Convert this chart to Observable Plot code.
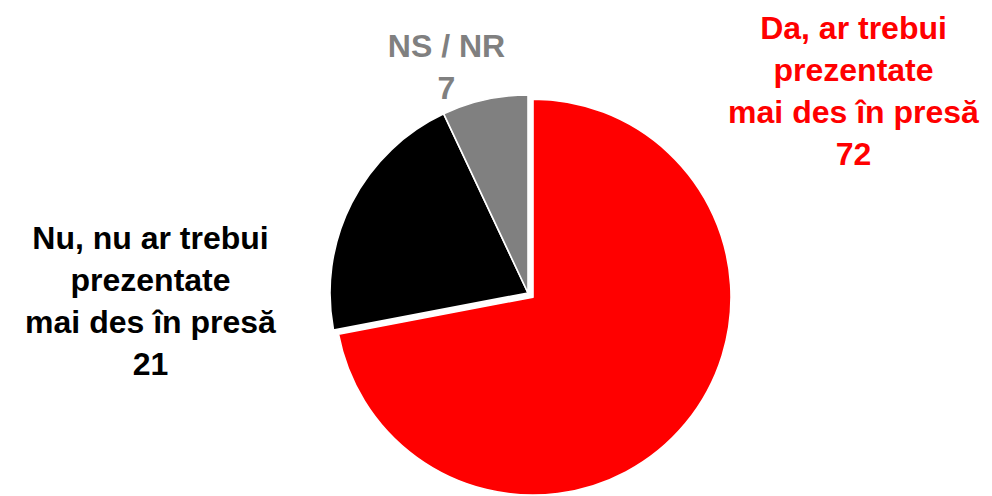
<!DOCTYPE html>
<html>
<head>
<meta charset="utf-8">
<script src="https://cdn.jsdelivr.net/npm/d3@7"></script>
<script src="https://cdn.jsdelivr.net/npm/@observablehq/plot@0.6"></script>
<style>
  html, body { margin: 0; padding: 0; background: #fff; }
</style>
</head>
<body>
<div id="chart"></div>
<script>
// ---- data ----
const categories = ["Da, ar trebui prezentate mai des în presă", "Nu, nu ar trebui prezentate mai des în presă", "NS / NR"];
const labels = ["Da, ar trebui\nprezentate\nmai des în presă", "Nu, nu ar trebui\nprezentate\nmai des în presă", "NS / NR"];
const values = [72, 21, 7];

// ---- layout / style (not data) ----
const W = 992, H = 496;
const palette = ["#ff0000", "#000000", "#808080"];
const pie = {cx: 528, cy: 293, r: 198, explode: [6.5, 0, 0]};
const labelPos = [
  {x: 853, y: 88},
  {x: 150, y: 298},
  {x: 446, y: 64}
];
const fontSize = 32, lineHeight = 1.32;

const rows = categories.map((c, i) => ({
  category: c,
  text: labels[i] + "\n" + values[i],
  value: values[i],
  i
}));

const arcs = d3.pie().sort(null).value(d => d.value)(rows);

function pieMark(index, scales) {
  const g = d3.create("svg:g");
  const cx = scales.x(pie.cx), cy = scales.y(pie.cy);
  const r = scales.x(pie.cx + pie.r) - scales.x(pie.cx);
  const arc = d3.arc().innerRadius(0).outerRadius(r);
  const order = arcs.slice().sort((a, b) => pie.explode[a.data.i] - pie.explode[b.data.i]);
  for (const a of order) {
    const mid = (a.startAngle + a.endAngle) / 2;
    const e = pie.explode[a.data.i];
    const dx = Math.sin(mid) * e, dy = -Math.cos(mid) * e;
    g.append("path")
      .attr("d", arc(a))
      .attr("transform", `translate(${cx + dx},${cy + dy})`)
      .attr("fill", scales.color(a.data.category))
      .attr("stroke", "#fff")
      .attr("stroke-width", 1.6)
      .attr("stroke-linejoin", "round");
  }
  return g.node();
}

const chart = Plot.plot({
  width: W,
  height: H,
  margin: 0,
  x: {domain: [0, W], range: [0, W], axis: null},
  y: {domain: [0, H], range: [0, H], axis: null},
  color: {domain: categories, range: palette},
  style: {fontFamily: "Arial, 'Liberation Sans', sans-serif", background: "#fff"},
  marks: [
    pieMark,
    ...rows.map((d, k) => Plot.text([d], {
      x: () => labelPos[k].x,
      y: () => labelPos[k].y,
      text: "text",
      fill: "category",
      fontSize,
      fontWeight: "bold",
      lineAnchor: "middle",
      lineHeight,
      textAnchor: "middle"
    }))
  ]
});

document.getElementById("chart").append(chart);
</script>
</body>
</html>
